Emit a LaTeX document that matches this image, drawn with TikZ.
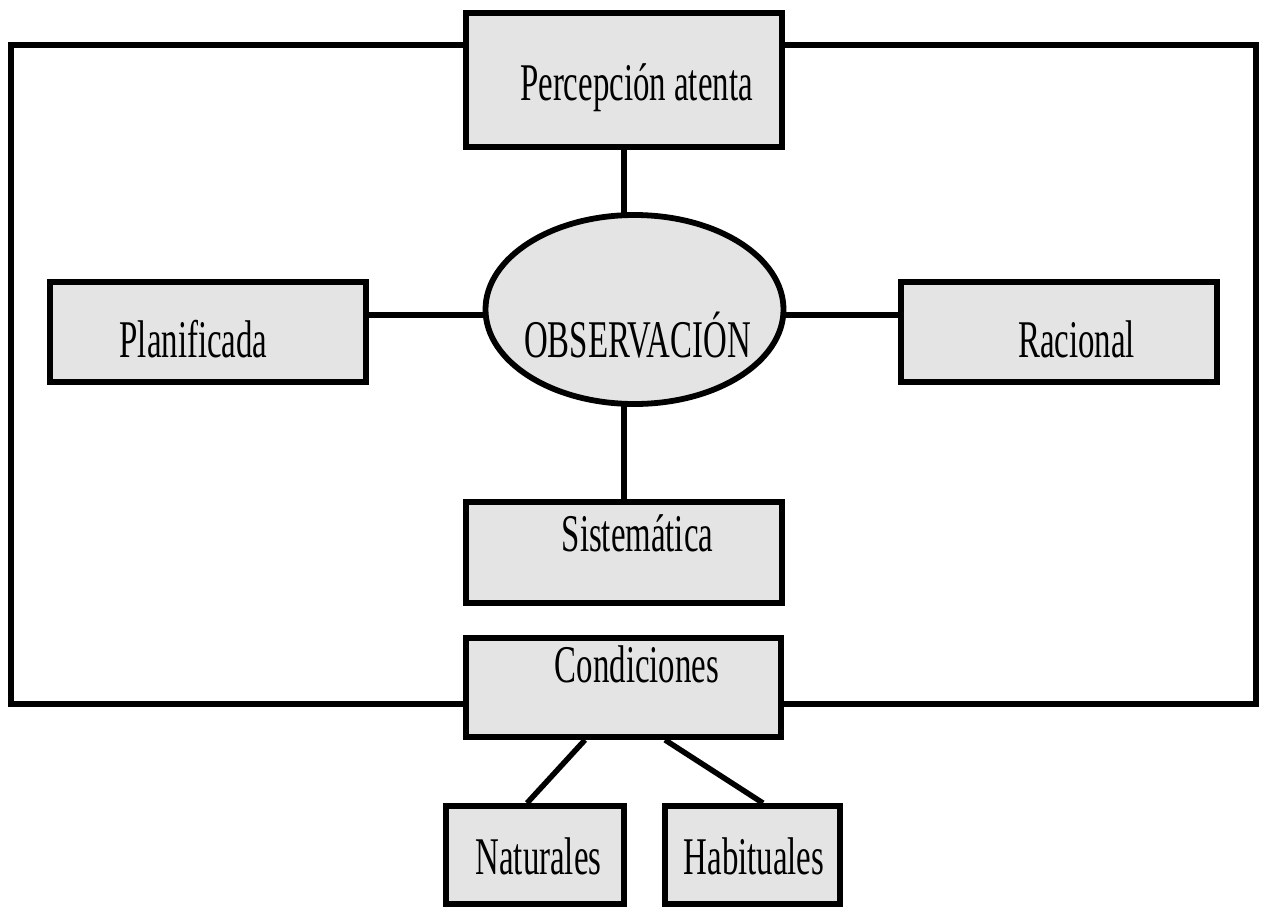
\documentclass[tikz,border=0pt]{standalone}
\usepackage{fontspec}
\setmainfont{Liberation Serif}
\usetikzlibrary{shapes.geometric,backgrounds}
\definecolor{boxfill}{RGB}{228,228,228}
\newcommand\narrowtxt[1]{\scalebox{0.62}[1]{#1}}
\begin{document}
\begin{tikzpicture}[x=1pt,y=-1pt,
  box/.style={draw=black,fill=boxfill,line width=5.8pt,rectangle,inner sep=0pt},
  oval/.style={draw=black,fill=boxfill,line width=5.8pt,ellipse,inner sep=0pt},
  lbl/.style={anchor=base,inner sep=0pt,font=\fontsize{53}{60}\selectfont},
  wire/.style={line width=5.5pt,draw=black}]
\useasboundingbox (0,0) rectangle (1263,907);
% outer frame
\draw[wire] (11,45) rectangle (1256,704);
% boxes
\node[box,minimum width=316pt,minimum height=134pt] (perc) at (624,80) {};
\node[box,minimum width=316pt,minimum height=100pt] (plan) at (208,332) {};
\node[box,minimum width=316pt,minimum height=100pt] (rac) at (1059,332) {};
\node[box,minimum width=316pt,minimum height=101pt] (sis) at (624,552.5) {};
\node[box,minimum width=315pt,minimum height=99pt] (cond) at (623.5,687.5) {};
\node[box,minimum width=178pt,minimum height=98pt] (nat) at (535,855) {};
\node[box,minimum width=175pt,minimum height=98pt] (hab) at (752.5,855) {};
\node[oval,minimum width=298pt,minimum height=189pt] (obs) at (634.5,309.5) {};
% labels
\node[lbl] (tperc) at (636.5,100) {\narrowtxt{Percepción atenta}};
\node[lbl] (tobs) at (637.5,357) {\narrowtxt{OBSERVACIÓN}};
\node[lbl] (tplan) at (193.5,357) {\narrowtxt{Planificada}};
\node[lbl] (trac) at (1076.5,357) {\narrowtxt{Racional}};
\node[lbl] (tsis) at (637.5,551) {\narrowtxt{Sistemática}};
\node[lbl] (tcond) at (637,682) {\narrowtxt{Condiciones}};
\node[lbl] (tnat) at (538.5,874) {\narrowtxt{Naturales}};
\node[lbl] (thab) at (754,874) {\narrowtxt{Habituales}};
% connectors
\begin{scope}[on background layer]
\draw[wire] (perc.south) -- (perc.south |- obs.center);
\draw[wire] (sis.north) -- (sis.north |- obs.center);
\draw[wire] (plan.east |- 0,315) -- (obs.center |- 0,315);
\draw[wire] (rac.west |- 0,315) -- (obs.center |- 0,315);
\draw[wire] (cond.south -| 585,0) -- (nat.north -| 527,0);
\draw[wire] (cond.south -| 665,0) -- (hab.north -| 763,0);
\end{scope}
\end{tikzpicture}
\end{document}
